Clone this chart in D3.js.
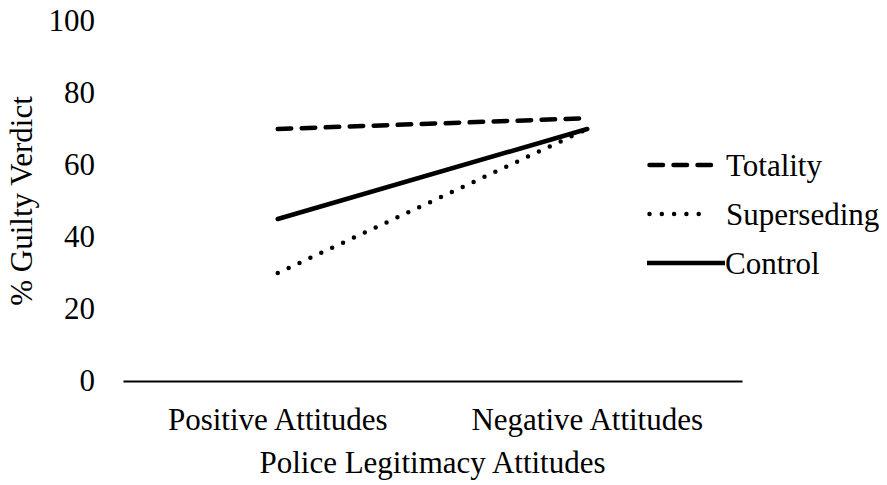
<!DOCTYPE html>
<html>
<head>
<meta charset="utf-8">
<script src="https://cdn.jsdelivr.net/npm/d3@7"></script>
<style>
  body { margin: 0; background: #fff; }
</style>
</head>
<body>
<script>
// chart data
let categories = ["Positive Attitudes", "Negative Attitudes"];
let seriesNames = ["Totality", "Superseding", "Control"];
let totality = [70, 73];
let superseding = [30, 70];
let control = [45, 70];
let yTicks = [0, 20, 40, 60, 80, 100];

// pick the first installed serif family (canvas width test)
function pickFont(candidates) {
  let ctx = document.createElement("canvas").getContext("2d");
  let sample = "Positive Attitudes 1008 Wgy";
  for (let f of candidates) {
    let same = ["monospace", "sans-serif"].every(g => {
      ctx.font = `30px ${g}`;
      let base = ctx.measureText(sample).width;
      ctx.font = `30px "${f}", ${g}`;
      return ctx.measureText(sample).width === base;
    });
    if (!same) return `"${f}"`;
  }
  return "serif";
}
let fontFamily = pickFont(["Liberation Serif", "Times New Roman", "Tinos", "DejaVu Serif", "Noto Serif", "Times"]) + ", serif";

let width = 887, height = 485;
let margins = { left: 123, top: 21, right: 145, bottom: 104 };
let plotW = width - margins.left - margins.right;
let plotH = height - margins.top - margins.bottom;
let fontSize = 31;

let svg = d3.select("body").append("svg")
  .attr("width", width)
  .attr("height", height)
  .style("font-family", fontFamily);
svg.append("rect").attr("width", width).attr("height", height).attr("fill", "#fff");

let container = svg.append("g")
  .attr("transform", `translate(${margins.left}, ${margins.top})`);

// scales
let xScale = d3.scaleBand().domain(categories).range([0, plotW]);
let yScale = d3.scaleLinear().domain([0, 100]).range([plotH, 0]);

// line styles per series
let styles = {
  "Totality": { dash: "13.5,10.5" },
  "Superseding": { dash: "0,12" },
  "Control": { dash: null }
};
let series = [
  { name: "Totality", values: totality },
  { name: "Superseding", values: superseding },
  { name: "Control", values: control }
];

// x axis
let xAxis = d3.axisBottom(xScale).tickSize(0).tickSizeOuter(0).tickPadding(27);
let xAxisG = container.append("g")
  .attr("transform", `translate(0, ${plotH})`)
  .call(xAxis)
  .attr("font-family", fontFamily)
  .attr("font-size", fontSize);
xAxisG.select(".domain").attr("stroke", "#000").attr("stroke-width", 2);

// y axis (labels only)
let yAxis = d3.axisLeft(yScale).tickValues(yTicks).tickSize(0).tickPadding(28);
let yAxisG = container.append("g").call(yAxis)
  .attr("font-family", fontFamily)
  .attr("font-size", fontSize);
yAxisG.select(".domain").remove();

// lines
let line = d3.line()
  .x((d, i) => xScale(categories[i]) + xScale.bandwidth() / 2)
  .y(d => yScale(d));

container.selectAll("path.series")
  .data(series)
  .join("path")
  .classed("series", true)
  .attr("d", d => line(d.values))
  .attr("fill", "none")
  .attr("stroke", "#000")
  .attr("stroke-width", 4.5)
  .attr("stroke-linecap", "round")
  .attr("stroke-dasharray", d => styles[d.name].dash);

// legend
let legend = svg.append("g")
  .attr("transform", `translate(647, 165)`)
  .selectAll("g.item")
  .data(seriesNames)
  .join("g")
  .classed("item", true)
  .attr("transform", (d, i) => `translate(0, ${i * 49})`);
legend.append("line")
  .attr("x1", d => d === "Control" ? 0 : 2.5)
  .attr("x2", d => d === "Control" ? 78 : 64)
  .attr("y1", 0).attr("y2", 0)
  .attr("stroke", "#000")
  .attr("stroke-width", 4.5)
  .attr("stroke-linecap", d => d === "Control" ? "butt" : "round")
  .attr("stroke-dasharray", d => d === "Totality" ? "13.5,10.5" : d === "Superseding" ? "0,12.3" : null);
legend.append("text")
  .text(d => d)
  .attr("x", d => d === "Control" ? 78 : 79)
  .attr("y", 0)
  .attr("dy", "0.35em")
  .attr("font-family", fontFamily)
  .attr("font-size", fontSize);

// x label
svg.append("text")
  .text("Police Legitimacy Attitudes")
  .attr("x", margins.left + plotW / 2)
  .attr("y", 473)
  .attr("text-anchor", "middle")
  .attr("font-family", fontFamily)
  .attr("font-size", fontSize);

// y label
svg.append("text")
  .text("% Guilty Verdict")
  .attr("transform", `translate(32, ${201}) rotate(-90)`)
  .attr("text-anchor", "middle")
  .attr("font-family", fontFamily)
  .attr("font-size", fontSize);
</script>
</body>
</html>
